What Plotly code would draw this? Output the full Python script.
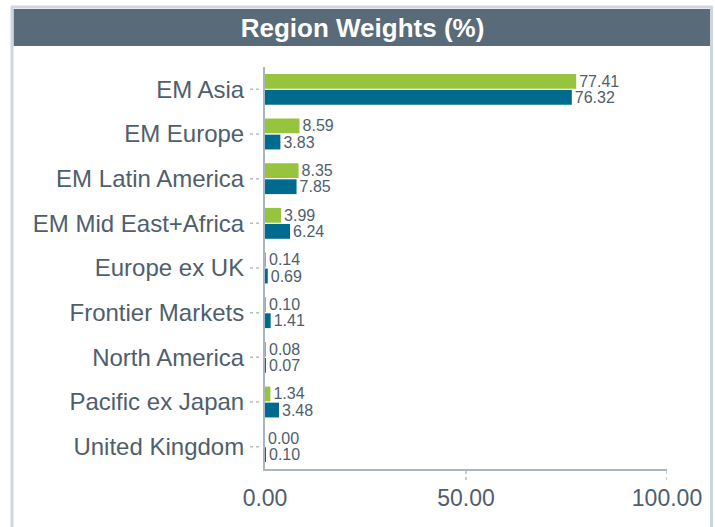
import plotly.graph_objects as go

# Region weights (%), fund vs. benchmark
regions = [
    "EM Asia", "EM Europe", "EM Latin America", "EM Mid East+Africa",
    "Europe ex UK", "Frontier Markets", "North America", "Pacific ex Japan",
    "United Kingdom",
]
fund = [77.41, 8.59, 8.35, 3.99, 0.14, 0.10, 0.08, 1.34, 0.00]
benchmark = [76.32, 3.83, 7.85, 6.24, 0.69, 1.41, 0.07, 3.48, 0.10]
x_ticks = [0, 50, 100]
x_tick_text = ["0.00", "50.00", "100.00"]

W, H = 715, 527
L, R, T, B = 265, 667, 67, 469  # plot area in pixels

FONT = "Liberation Sans, Arial, sans-serif"
TXT = "#4f5e6d"
GREEN = "#97c43d"
BLUE = "#006a8f"


def px_x(p):
    return (p - L) / (R - L)


def px_y(p):
    return (B - p) / (B - T)


fig = go.Figure()
for name, vals, color in (("Fund", fund, GREEN), ("Benchmark", benchmark, BLUE)):
    fig.add_trace(go.Bar(
        y=regions, x=vals, orientation="h", name=name,
        marker=dict(color=color, line=dict(width=0)),
        text=[f"{v:.2f}" for v in vals], textposition="outside",
        textfont=dict(family=FONT, size=16, color=TXT),
        constraintext="none", cliponaxis=False, textangle=0,
    ))

shapes = []
# outer frame (left, top, right)
frame = dict(type="line", xref="paper", yref="paper",
             line=dict(color="#cfd5de", width=3), layer="above")
shapes.append({**frame, "x0": px_x(12), "x1": px_x(12), "y0": px_y(6), "y1": px_y(H + 5)})
shapes.append({**frame, "x0": px_x(11), "x1": px_x(712.5), "y0": px_y(7), "y1": px_y(7)})
shapes.append({**frame, "x0": px_x(711.5), "x1": px_x(711.5), "y0": px_y(6), "y1": px_y(H + 5)})
# title band
shapes.append(dict(type="rect", xref="paper", yref="paper",
                   x0=px_x(13.5), x1=px_x(710), y0=px_y(9), y1=px_y(46),
                   fillcolor="#596a79", line=dict(width=0), layer="below"))
# dotted category ticks
for i in range(len(regions)):
    shapes.append(dict(type="line", xref="paper", yref="y",
                       x0=px_x(250), x1=px_x(261), y0=i, y1=i,
                       line=dict(color="#b5bdc6", width=1.5, dash="dot")))
# dotted value-axis ticks
for v in x_ticks[1:]:
    shapes.append(dict(type="line", xref="x", yref="paper",
                       x0=v, x1=v, y0=px_y(471), y1=px_y(483),
                       line=dict(color="#b5bdc6", width=1.5, dash="dot")))

fig.update_layout(
    width=W, height=H,
    margin=dict(l=L, r=W - R, t=T, b=H - B, pad=0),
    paper_bgcolor="white", plot_bgcolor="white",
    barmode="group", bargap=0.28, bargroupgap=0.08,
    showlegend=False,
    title=dict(text="<b>Region Weights (%)</b>", xref="container", yref="container",
               x=362.5 / W, y=1 - 27.5 / H, xanchor="center", yanchor="middle",
               font=dict(family=FONT, size=26, color="white")),
    shapes=shapes,
    font=dict(family=FONT, color=TXT),
)
fig.update_yaxes(
    autorange="reversed", showgrid=False, zeroline=False,
    showline=True, linecolor="#a9b5c1", linewidth=2,
    ticks="", ticklabelstandoff=14,
    tickfont=dict(family=FONT, size=24, color=TXT),
)
fig.update_xaxes(
    range=[0, 100], showgrid=False, zeroline=False,
    showline=True, linecolor="#a9b5c1", linewidth=2,
    tickvals=x_ticks, ticktext=x_tick_text, ticks="", ticklabelstandoff=7,
    tickfont=dict(family=FONT, size=23, color=TXT),
)

fig.write_html("out.html")
